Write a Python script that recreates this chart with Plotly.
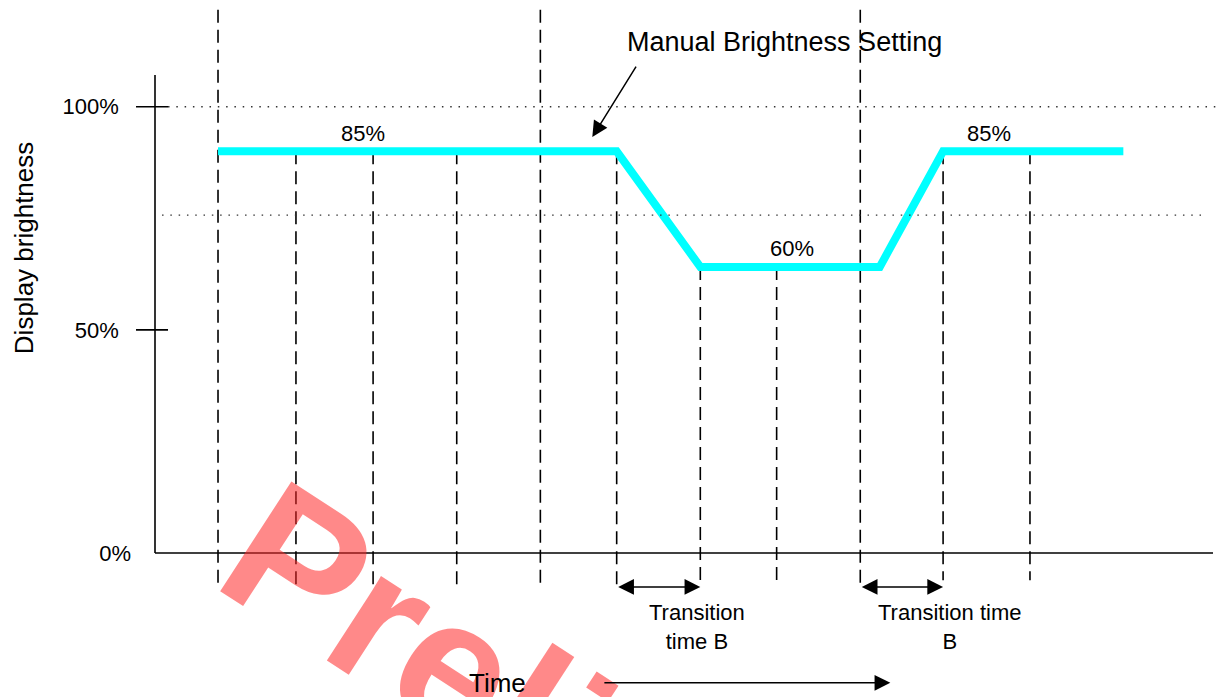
import plotly.graph_objects as go

# ---------------- data (time in arbitrary units, brightness in %) ----------------
brightness_t = [0.0, 4.91, 5.94, 8.15, 8.93, 11.15]
brightness_pct = [90.0, 90.0, 64.1, 64.1, 90.0, 90.0]

grid_t = [0.0, 0.96, 1.91, 2.94, 3.97, 4.91, 5.94, 6.88, 7.91, 8.93, 10.0]
grid_top = [121.7, 90.0, 90.0, 90.0, 121.7, 90.0, 64.1, 64.1, 121.7, 90.0, 90.0]
grid_bottom = [-7.6, -7.6, -7.6, -7.6, -7.6, -7.6, -7.6, -7.6, -7.6, -6.1, -6.1]

ref_levels = [100.0, 75.7]
ytick_vals = [0, 50, 100]
ytick_text = ["0%", "50%\u00a0\u00a0", "100%\u00a0\u00a0"]

level_labels = ["85%", "60%", "85%"]
level_label_t = [1.79, 7.07, 9.50]
level_label_y = [93.9, 68.2, 94.1]

transitions = [(4.91, 5.94), (7.91, 8.93)]
transition_texts = ["Transition<br>time B", "Transition time<br>B"]
transition_label_t = [5.90, 9.01]

X_RANGE = [-0.776, 12.365]
Y_RANGE = [-32.27, 123.91]
FONT = "Arial, Liberation Sans, sans-serif"

fig = go.Figure()

# dashed vertical guide lines
gx, gy = [], []
for t, top, bot in zip(grid_t, grid_top, grid_bottom):
    gx += [t, t, None]
    gy += [top, bot, None]
fig.add_trace(go.Scatter(x=gx, y=gy, mode="lines", hoverinfo="skip",
                         line=dict(color="black", width=1.6, dash="13px,7px"),
                         showlegend=False))

# brightness curve
fig.add_trace(go.Scatter(x=brightness_t, y=brightness_pct, mode="lines",
                         line=dict(color="#00FFFF", width=8),
                         showlegend=False, hoverinfo="skip"))

shapes = []
# axis lines
shapes.append(dict(type="line", xref="paper", yref="y", x0=0, x1=0, y0=0, y1=107.1,
                   line=dict(color="black", width=1.6)))
shapes.append(dict(type="line", xref="paper", yref="y", x0=0, x1=0.9916, y0=0, y1=0,
                   line=dict(color="black", width=1.6)))
# crossing tick marks
for v in [100, 50]:
    shapes.append(dict(type="line", xref="paper", yref="y", x0=-0.0178, x1=0.0122, y0=v, y1=v,
                       line=dict(color="black", width=1.6)))
# dotted reference levels
shapes.append(dict(type="line", xref="paper", yref="y", x0=0.0122, x1=1.0,
                   y0=ref_levels[0], y1=ref_levels[0],
                   line=dict(color="#333333", width=1.4, dash="1.5px,6.8px")))
shapes.append(dict(type="line", xref="paper", yref="y", x0=0.0066, x1=0.986,
                   y0=ref_levels[1], y1=ref_levels[1],
                   line=dict(color="#333333", width=1.4, dash="1.5px,6.8px")))

annotations = []
# watermark
annotations.append(dict(text="<b>Preliminary</b>", xref="paper", yref="paper",
                        x=0.492, y=-0.163, xanchor="center", yanchor="middle",
                        showarrow=False, textangle=33,
                        font=dict(family="Liberation Sans Narrow, Arial Narrow, Arial", size=190,
                                  color="rgba(255,40,40,0.55)")))
# level labels
for txt, t, y in zip(level_labels, level_label_t, level_label_y):
    annotations.append(dict(text=txt, x=t, y=y, xref="x", yref="y", showarrow=False,
                            font=dict(family=FONT, size=22, color="black")))
# title text + pointer arrow
annotations.append(dict(text="Manual Brightness Setting", x=6.98, y=114.5, xref="x", yref="y",
                        showarrow=False, font=dict(family=FONT, size=27, color="black")))
annotations.append(dict(text="", x=4.61, y=93.2, ax=5.16, ay=109.3, xref="x", yref="y",
                        axref="x", ayref="y", showarrow=True, arrowhead=2, arrowsize=2.1,
                        arrowwidth=1.5, arrowcolor="black", standoff=0))
# transition double arrows and labels
for (t0, t1), txt, lt in zip(transitions, transition_texts, transition_label_t):
    annotations.append(dict(text="", x=t1, y=-7.6, ax=t0, ay=-7.6, xref="x", yref="y",
                            axref="x", ayref="y", showarrow=True, arrowhead=2, startarrowhead=2,
                            arrowside="end+start", arrowsize=2.1, startarrowsize=2.1,
                            arrowwidth=1.5, arrowcolor="black", standoff=0, startstandoff=0))
    annotations.append(dict(text=txt, x=lt, y=-16.6, xref="x", yref="y", showarrow=False,
                            font=dict(family=FONT, size=22, color="black")))
# time axis label + arrow
annotations.append(dict(text="Time", x=3.44, y=-29.1, xref="x", yref="y", showarrow=False,
                        font=dict(family=FONT, size=26, color="black")))
annotations.append(dict(text="", x=8.28, y=-29.1, ax=4.74, ay=-29.1, xref="x", yref="y",
                        axref="x", ayref="y", showarrow=True, arrowhead=2, arrowsize=2.1,
                        arrowwidth=1.5, arrowcolor="black", standoff=0))
# y-axis title
annotations.append(dict(text="Display brightness", x=-0.1228, y=68.3, xref="paper", yref="y",
                        xanchor="center", yanchor="middle",
                        showarrow=False, textangle=-90,
                        font=dict(family=FONT, size=26, color="black")))

fig.update_layout(
    template="none",
    width=1222, height=697,
    margin=dict(l=155, r=0, t=0, b=0, pad=0),
    paper_bgcolor="white", plot_bgcolor="white",
    font=dict(family=FONT, color="black"),
    showlegend=False,
    shapes=shapes,
    annotations=annotations,
    xaxis=dict(range=X_RANGE, showgrid=False, zeroline=False, showline=False,
               showticklabels=False, ticks="", automargin=False, fixedrange=True),
    yaxis=dict(range=Y_RANGE, showgrid=False, zeroline=False, showline=False,
               tickvals=ytick_vals, ticktext=ytick_text, ticks="",
               tickfont=dict(family=FONT, size=22, color="black"),
               ticklabelstandoff=23, automargin=False, fixedrange=True),
)

fig.write_html("out.html", config={"displayModeBar": False},
               post_script="document.body.style.margin='0px'; document.body.style.overflow='hidden';")
